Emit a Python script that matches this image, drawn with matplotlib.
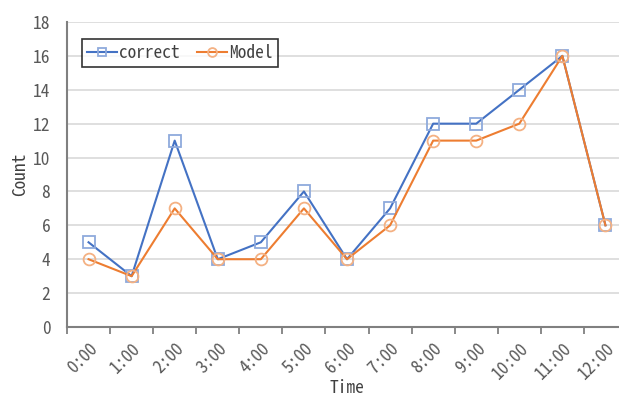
import matplotlib
matplotlib.use("Agg")
import matplotlib.pyplot as plt
import numpy as np

categories = ["0:00", "1:00", "2:00", "3:00", "4:00", "5:00", "6:00",
              "7:00", "8:00", "9:00", "10:00", "11:00", "12:00"]
correct = [5, 3, 11, 4, 5, 8, 4, 7, 12, 12, 14, 16, 6]
model = [4, 3, 7, 4, 4, 7, 4, 6, 11, 11, 12, 16, 6]
yticks = [0, 2, 4, 6, 8, 10, 12, 14, 16, 18]

plt.rcParams['font.family'] = ['Noto Sans Mono CJK JP', 'Noto Sans CJK JP', 'DejaVu Sans Mono']

W, H = 619, 398
fig = plt.figure(figsize=(W / 100, H / 100), dpi=100)
left, right, top, bottom = 67, 627, 22, 327
ax = fig.add_axes([left / W, 1 - bottom / H, (right - left) / W, (bottom - top) / H])

x = np.arange(len(categories))
blue = "#4472C4"
orange = "#ED7D31"
ax.plot(x, correct, color=blue, lw=1.5, marker="s", ms=8.5, mfc="none",
        mec="#8FAADC", mew=1.3, label="correct", zorder=3)
ax.plot(x, model, color=orange, lw=1.5, marker="o", ms=8.5, mfc="none",
        mec="#F4B183", mew=1.3, label="Model", zorder=4)

ax.set_xlim(-0.5, len(categories) - 0.5)
ax.set_ylim(0, 18)
ax.set_yticks(yticks)
ax.grid(axis="y", color="#D9D9D9", lw=1.2)
ax.set_axisbelow(True)

for s in ["top", "right"]:
    ax.spines[s].set_visible(False)
for s in ["left", "bottom"]:
    ax.spines[s].set_color("#808080")
    ax.spines[s].set_linewidth(1.5)

ax.set_xticks(x)
ax.set_xticklabels(categories, rotation=45, ha="right", rotation_mode="anchor")
ax.set_xticks(np.arange(-0.5, len(categories), 1), minor=True)
ax.tick_params(axis="x", which="major", length=0, pad=9, labelsize=12.5, colors="#595959")
ax.tick_params(axis="x", which="minor", length=5, width=1.3, color="#808080")
ax.tick_params(axis="y", length=0, pad=12, labelsize=12.5, colors="#595959")

ax.set_xlabel("Time", fontsize=12.5, color="#404040", va="center")
ax.xaxis.set_label_coords((347 - left) / (right - left), -(388 - bottom) / (bottom - top))
ax.set_ylabel("Count", fontsize=12.5, color="#404040", labelpad=3)

leg = ax.legend(loc="upper left", bbox_to_anchor=((82 - left) / (right - left), (bottom - 39) / (bottom - top)),
                ncol=2, frameon=True, fancybox=False, edgecolor="#000000",
                fontsize=12.5, handlelength=1.7, handletextpad=0.15, columnspacing=1.0,
                borderpad=0.3, borderaxespad=0, markerscale=0.75)
leg.get_frame().set_linewidth(1.2)
for t in leg.get_texts():
    t.set_color("#404040")

fig.savefig("out.png", dpi=100)
